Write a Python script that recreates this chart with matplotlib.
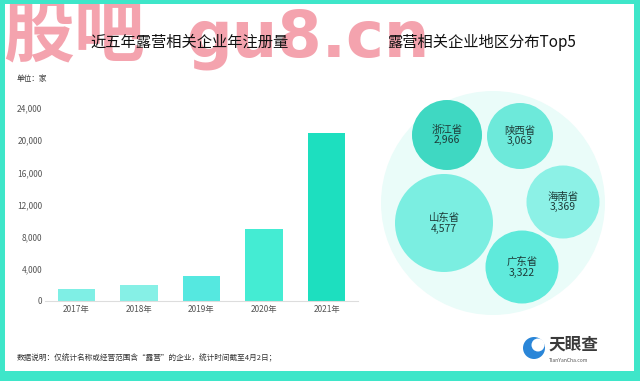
import matplotlib
matplotlib.use('Agg')
import matplotlib.pyplot as plt
from matplotlib.patches import Circle, Rectangle
from matplotlib.ticker import FuncFormatter

plt.rcParams['font.family'] = ['Noto Sans CJK SC', 'DejaVu Sans']

# bar chart data
years = ['2017年', '2018年', '2019年', '2020年', '2021年']
counts = [1550, 2050, 3100, 8900, 20900]
bar_colors = ['#7fefe5', '#86f0e6', '#55e8e0', '#44ecd3', '#1ddfbf']
y_ticks = [0, 4000, 8000, 12000, 16000, 20000, 24000]

# bubble data
provinces = ['浙江省', '陕西省', '海南省', '山东省', '广东省']
prov_counts = [2966, 3063, 3369, 4577, 3322]
bubble_colors = ['#3fd8c2', '#6de9da', '#8cf1e6', '#7beee1', '#5feadb']
# layout in pixels (x, y, radius)
bubble_layout = [(447, 135, 35), (520, 136, 33), (563, 202, 36.5), (444, 223, 49), (522, 267, 36.5)]

W, H = 640, 381
fig = plt.figure(figsize=(6.4, 3.81), dpi=100)
fig.patch.set_facecolor('white')

# overlay axes in pixel coordinates
ov = fig.add_axes([0, 0, 1, 1])
ov.set_xlim(0, W)
ov.set_ylim(H, 0)
ov.axis('off')

# pink watermark (behind everything else)
ov.text(3, 35, '股吧', fontsize=51, ha='left', va='center', color='#f4a3ae', fontweight='black', zorder=1)
ov.text(186, 39, 'gu8.cn', fontsize=46, ha='left', va='center', color='#f4a3ae',
        fontweight='bold', family='DejaVu Sans', zorder=1)

# teal frame
teal = '#3ee6c9'
ov.add_patch(Rectangle((0, 0), W, 4, color=teal, lw=0, zorder=5))
ov.add_patch(Rectangle((0, 0), 5, H, color=teal, lw=0, zorder=5))
ov.add_patch(Rectangle((634, 0), 6, H, color=teal, lw=0, zorder=5))
ov.add_patch(Rectangle((0, 371), W, 10, color=teal, lw=0, zorder=5))

# titles
ov.text(190, 42, '近五年露营相关企业年注册量', fontsize=11, ha='center', va='center', color='#111111', zorder=4)
ov.text(482, 42, '露营相关企业地区分布Top5', fontsize=11, ha='center', va='center', color='#111111', zorder=4)
ov.text(17, 79, '单位：家', fontsize=5.5, ha='left', va='center', color='#333333', zorder=4)

# bubbles
ov.add_patch(Circle((493, 203), 112, color='#eafcf9', lw=0))
for name, val, col, (cx, cy, r) in zip(provinces, prov_counts, bubble_colors, bubble_layout):
    ov.add_patch(Circle((cx, cy), r, color=col, lw=0))
    ov.text(cx, cy, f'{name}\n{val:,}', fontsize=7.5, ha='center', va='center',
            color='#1d3b38', linespacing=1.1)

# footer
ov.text(17, 358, '数据说明：仅统计名称或经营范围含“露营”的企业，统计时间截至4月2日；',
        fontsize=5.5, ha='left', va='center', color='#333333')

# logo
ov.add_patch(Circle((534, 348), 11, color='#2a86d8', lw=0))
ov.add_patch(Circle((538, 345), 6.5, color='white', lw=0))
ov.text(548, 345, '天眼查', fontsize=12, ha='left', va='center', color='#3a3a3a', fontweight='bold')
ov.text(549, 360, 'TianYanCha.com', fontsize=3.6, ha='left', va='center', color='#555555')

# bar chart
ax = fig.add_axes([45 / W, 1 - 301 / H, (358 - 45) / W, (301 - 108) / H])
ax.patch.set_alpha(0)
ax.bar(range(len(years)), counts, width=0.6, color=bar_colors)
ax.set_xlim(-0.5, 4.5)
ax.set_ylim(0, 24000)
ax.set_yticks(y_ticks)
ax.yaxis.set_major_formatter(FuncFormatter(lambda v, p: f'{int(v):,}'))
ax.set_xticks(range(len(years)))
ax.set_xticklabels(years)
ax.tick_params(axis='both', length=0, labelsize=6, colors='#555555')
ax.tick_params(axis='y', pad=2)
ax.tick_params(axis='x', pad=3)
for s in ['top', 'right', 'left']:
    ax.spines[s].set_visible(False)
ax.spines['bottom'].set_color('#dddddd')
ax.spines['bottom'].set_linewidth(0.8)

fig.savefig('out.png', dpi=100)
